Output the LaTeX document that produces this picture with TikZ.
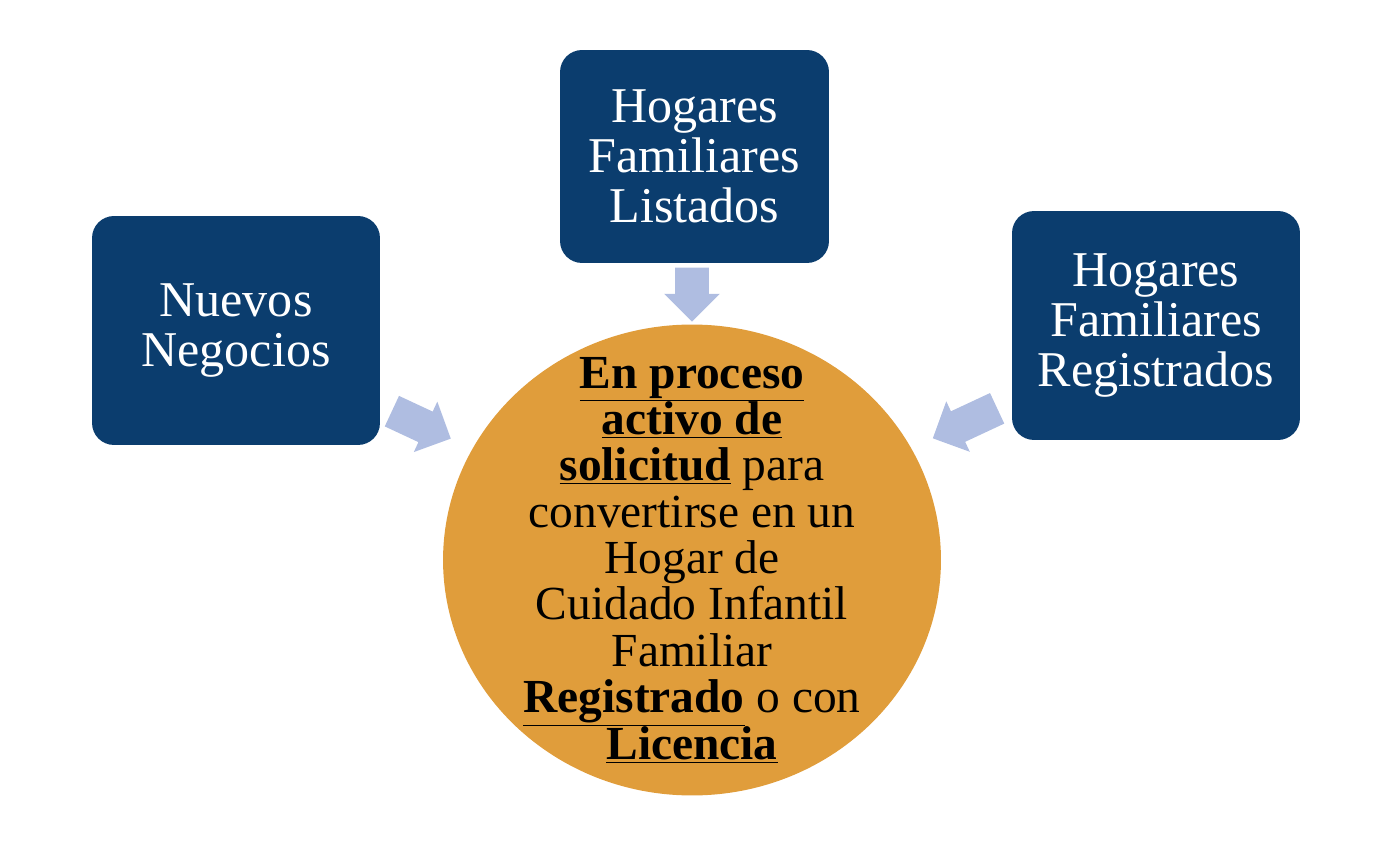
\documentclass[tikz,border=0pt]{standalone}
\usepackage{fontspec}
\setmainfont{Liberation Serif}
\usetikzlibrary{calc,shapes.arrows,shapes.geometric}
\definecolor{navy}{HTML}{0B3D6E}
\definecolor{amber}{HTML}{E09D3B}
\definecolor{lilac}{HTML}{AFBDE1}
\newcommand{\hubfont}{\fontsize{27}{26.4}\selectfont\setlength{\lineskiplimit}{-30pt}}

\begin{document}
\begin{tikzpicture}[
    x=0.02cm, y=-0.02cm,
    box/.style={fill=navy, rounded corners=0.44cm, text=white, align=center,
        inner sep=0pt, font=\fontsize{28.5}{28.5}\selectfont},
    hub/.style={ellipse, fill=amber, inner sep=0pt,
        minimum width=9.96cm, minimum height=9.42cm},
    hubtext/.style={align=center, inner sep=0pt, font=\hubfont},
    feed/.style={single arrow, fill=lilac, inner xsep=0pt, inner ysep=0.33cm,
        minimum width=0pt, single arrow head extend=0.22cm,
        single arrow head indent=0pt, anchor=tip},
]
\useasboundingbox (0,0) rectangle (1399,844);

% Boxes
\node[box, minimum width=5.76cm, minimum height=4.58cm] (nuevos) at (236,330.5)
    {Nuevos\\Negocios};
\node[box, minimum width=5.38cm, minimum height=4.26cm] (listados) at (694.5,156.5)
    {Hogares\\Familiares\\Listados};
\node[box, minimum width=5.76cm, minimum height=4.58cm] (registrados) at (1156,325.5)
    {Hogares\\Familiares\\Registrados};

% Central circle
\node[hub] (proceso) at (692,560) {};
\node[hubtext] (texto) at (proceso.center)
    {\underline{\textbf{En proceso}}\\
     \underline{\textbf{activo de}}\\
     \underline{\textbf{solicitud}} para\\
     convertirse en un\\
     Hogar de\\
     Cuidado Infantil\\
     Familiar\\
     \underline{\textbf{Registrado}} o con\\
     \underline{\textbf{Licencia}}};

% Block arrows
\node[feed, minimum height=1.08cm, rotate=-90] (flechaT)
    at ([yshift=0.04cm]proceso.north) {};
\node[feed, minimum height=1.3cm, rotate=-25] (flechaL)
    at ($(nuevos.center)!0.472!(proceso.center)$) {};
\node[feed, minimum height=1.42cm, rotate=205] (flechaR)
    at ($(registrados.center)!0.482!(proceso.center)$) {};

\end{tikzpicture}
\end{document}
